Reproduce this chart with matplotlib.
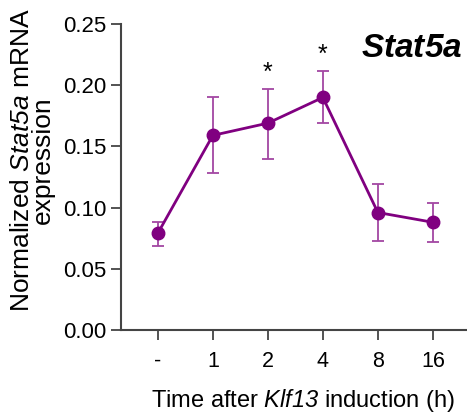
import matplotlib

matplotlib.use("Agg")
import matplotlib.pyplot as plt

plt.rcParams["font.family"] = ["Liberation Sans", "DejaVu Sans"]
plt.rcParams["mathtext.fontset"] = "custom"
plt.rcParams["mathtext.rm"] = "Liberation Sans"
# sf -> cursiva (así los dígitos también salen en cursiva)
plt.rcParams["mathtext.sf"] = "Liberation Sans:italic"
plt.rcParams["mathtext.bf"] = "Liberation Sans:bold:italic"

# datos
time_labels = ["-", "1", "2", "4", "8", "16"]
mean_expr = [0.079, 0.159, 0.169, 0.190, 0.096, 0.088]
err_low = [0.010, 0.031, 0.029, 0.021, 0.023, 0.016]
err_high = [0.0095, 0.031, 0.028, 0.022, 0.023, 0.016]
signif = ["", "", "*", "*", "", ""]

PURPLE = "#800080"
ERR = "#a347a3"
AXC = "#444444"

fig = plt.figure(figsize=(4.67, 4.19), dpi=100)
ax = fig.add_axes([0.259, 0.2124, 0.741, 0.7303])

x = list(range(len(time_labels)))
ax.errorbar(x, mean_expr, yerr=[err_low, err_high], fmt="none", ecolor=ERR,
            elinewidth=1.3, capsize=4.5, capthick=1.3, zorder=2)
ax.plot(x, mean_expr, "-o", color=PURPLE, lw=2.0, ms=9, zorder=3)

for xi, m, e, s in zip(x, mean_expr, err_high, signif):
    if s:
        ax.text(xi, m + e + 0.003, s, ha="center", va="bottom", fontsize=18)

ax.set_xlim(-0.67, 5.62)
ax.set_ylim(0, 0.25)
ax.set_yticks([0, 0.05, 0.10, 0.15, 0.20, 0.25])
ax.set_yticklabels([f"{v:.2f}" for v in ax.get_yticks()], fontsize=16)
ax.set_xticks(x)
ax.set_xticklabels(time_labels, fontsize=15.5)

for side in ["top", "right"]:
    ax.spines[side].set_visible(False)
for side in ["left", "bottom"]:
    ax.spines[side].set_color(AXC)
    ax.spines[side].set_linewidth(1.5)
ax.tick_params(axis="both", colors=AXC, length=7, width=1.3, labelcolor="black")
ax.tick_params(axis="x", pad=8)

ax.set_xlabel(r"Time after $\mathsf{Klf13}$ induction (h)", fontsize=17)
ax.xaxis.set_label_coords(0.527, -0.185)
ax.set_ylabel("Normalized $\\mathsf{Stat5a}$ mRNA\nexpression", fontsize=19,
              linespacing=0.8)
ax.yaxis.set_label_coords(-0.192, 0.556)
ax.text(0.985, 0.92, r"$\mathbf{Stat5a}$", transform=ax.transAxes,
        ha="right", va="center", fontsize=24)

fig.savefig("out.png", dpi=100)
